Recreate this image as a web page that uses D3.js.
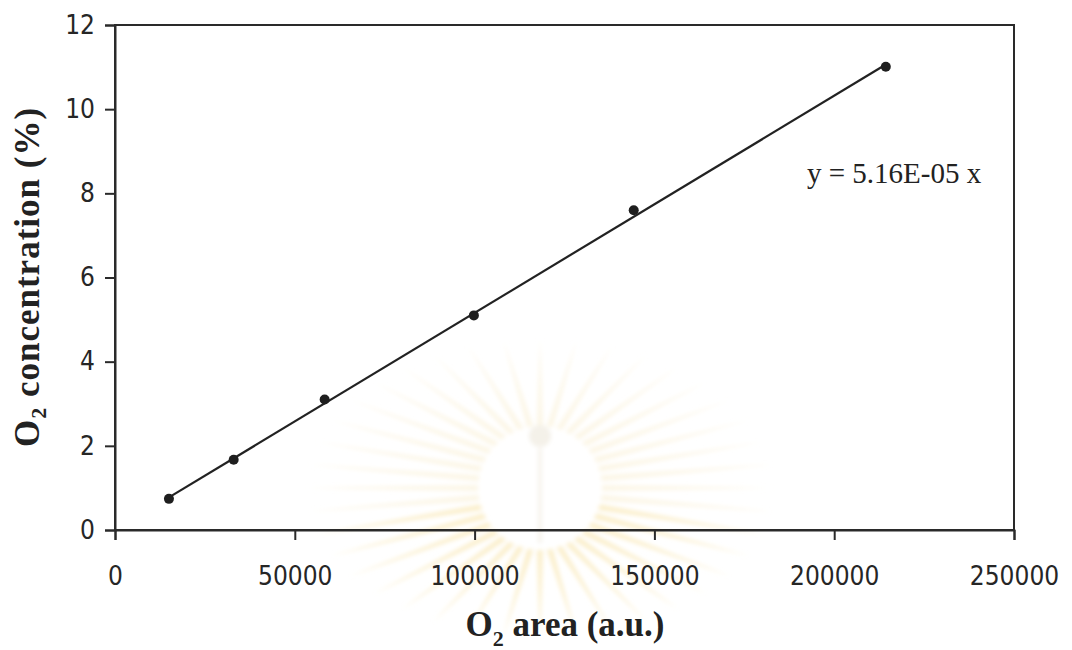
<!DOCTYPE html>
<html>
<head>
<meta charset="utf-8">
<script src="https://cdn.jsdelivr.net/npm/d3@7/dist/d3.min.js"></script>
<style>
  html, body { margin: 0; padding: 0; background: #fff; }
  svg { display: block; }
</style>
</head>
<body>
<svg id="chart" width="1072" height="650"></svg>
<script>
// ---- data ----
const o2Area = [15000, 33000, 58300, 99800, 144250, 214350];
const o2Conc = [0.74, 1.67, 3.10, 5.10, 7.60, 11.01];
const slope = 5.16e-5;
const xTicks = [0, 50000, 100000, 150000, 200000, 250000];
const yTicks = [0, 2, 4, 6, 8, 10, 12];
const equationLabel = "y = 5.16E-05 x";

const svg = d3.select("#chart");
const m = { left: 115, right: 1014, top: 25, bottom: 530 };

const x = d3.scaleLinear().domain([0, 250000]).range([m.left, m.right]);
const y = d3.scaleLinear().domain([0, 12]).range([m.bottom, m.top]);

// faint watermark (scanned emblem)
const defs = svg.append("defs");
defs.append("filter").attr("id", "blur").attr("x", "-20%").attr("y", "-20%").attr("width", "140%").attr("height", "140%")
  .append("feGaussianBlur").attr("stdDeviation", 2.2);
const wm = svg.append("g").attr("transform", "translate(540,488)").attr("filter", "url(#blur)");
const nRays = 40;
for (let i = 0; i < nRays; i++) {
  const a = (i / nRays) * 2 * Math.PI;
  const r0 = 62, rx = 235, ry = 150;
  const w = 0.05;
  const p = [
    [Math.cos(a - w) * r0, Math.sin(a - w) * r0],
    [Math.cos(a) * rx, Math.sin(a) * ry],
    [Math.cos(a + w) * r0, Math.sin(a + w) * r0]
  ];
  wm.append("path")
    .attr("d", "M" + p.map(q => q.join(",")).join("L") + "Z")
    .attr("fill", Math.sin(a) > 0.3 ? "#fbefcc" : "#fcf6e6");
}
wm.append("circle").attr("r", 11).attr("cy", -52).attr("fill", "#f4f1e9");
wm.append("rect").attr("x", -2).attr("y", -40).attr("width", 4).attr("height", 95).attr("fill", "#f6f3ec");

// frame
svg.append("rect")
  .attr("x", m.left).attr("y", m.top)
  .attr("width", m.right - m.left).attr("height", m.bottom - m.top)
  .attr("fill", "none").attr("stroke", "#2a2a2a").attr("stroke-width", 2);

const tickFont = "'DejaVu Sans Condensed', 'DejaVu Sans', sans-serif";

// axes
const yAxis = svg.append("g")
  .attr("transform", `translate(${m.left},0)`)
  .call(d3.axisLeft(y).tickValues(yTicks).tickFormat(d3.format("d")).tickSize(10).tickPadding(10));
const xAxis = svg.append("g")
  .attr("transform", `translate(0,${m.bottom})`)
  .call(d3.axisBottom(x).tickValues(xTicks).tickFormat(d3.format("d")).tickSize(10).tickPadding(27));

[xAxis, yAxis].forEach(g => {
  g.select(".domain").attr("stroke", "#2a2a2a").attr("stroke-width", 2);
  g.selectAll(".tick line").attr("stroke", "#2a2a2a").attr("stroke-width", 2);
  g.selectAll(".tick text")
    .attr("fill", "#262626")
    .style("font-family", tickFont)
    .style("font-size", "26px");
});

// trendline
const xMin = d3.min(o2Area), xMax = d3.max(o2Area);
svg.append("line")
  .attr("x1", x(xMin)).attr("y1", y(slope * xMin))
  .attr("x2", x(xMax)).attr("y2", y(slope * xMax))
  .attr("stroke", "#222").attr("stroke-width", 2.2);

// points
svg.selectAll("circle.pt")
  .data(o2Area.map((v, i) => [v, o2Conc[i]]))
  .enter().append("circle")
  .attr("class", "pt")
  .attr("cx", d => x(d[0])).attr("cy", d => y(d[1]))
  .attr("r", 5).attr("fill", "#1e1e1e");

// equation
svg.append("text")
  .attr("x", 807).attr("y", 183)
  .attr("fill", "#222")
  .style("font-family", "'Liberation Serif', 'Times New Roman', serif")
  .style("font-size", "29px")
  .text(equationLabel);

// axis titles
const titleFont = "'Liberation Serif', 'Times New Roman', serif";
const xt = svg.append("text")
  .attr("x", 565).attr("y", 636)
  .attr("text-anchor", "middle")
  .attr("fill", "#222")
  .style("font-family", titleFont).style("font-weight", "bold").style("font-size", "35px");
xt.append("tspan").text("O");
xt.append("tspan").attr("dy", 10).style("font-size", "22px").text("2");
xt.append("tspan").attr("dy", -10).text(" area (a.u.)");

const yt = svg.append("text")
  .attr("transform", "translate(39,277) rotate(-90)")
  .attr("text-anchor", "middle")
  .attr("fill", "#222")
  .style("font-family", titleFont).style("font-weight", "bold").style("font-size", "35px")
  .style("letter-spacing", "1px");
yt.append("tspan").text("O");
yt.append("tspan").attr("dy", 7).style("font-size", "22px").text("2");
yt.append("tspan").attr("dy", -7).text(" concentration (%)");
</script>
</body>
</html>
